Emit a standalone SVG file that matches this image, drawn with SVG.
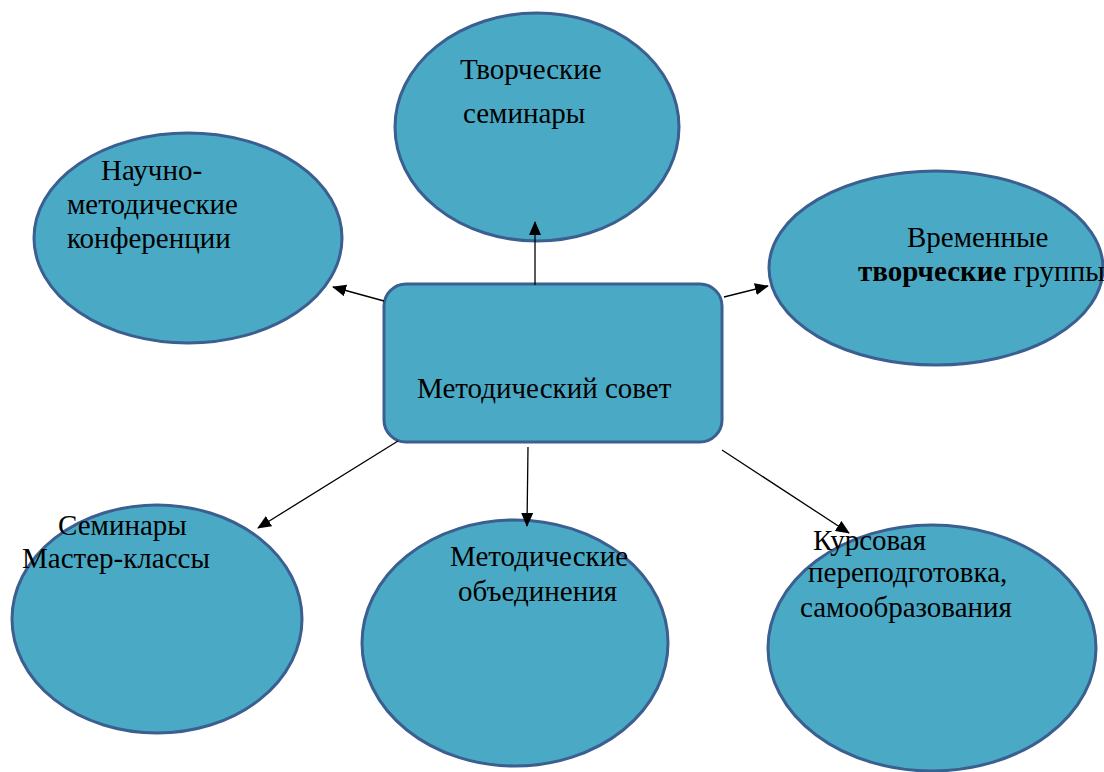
<svg xmlns="http://www.w3.org/2000/svg" width="1104" height="772" viewBox="0 0 1104 772">
<style>
.n{fill:#4aaac5;stroke:#3a5f90;stroke-width:3}
.t{font-family:"Liberation Serif","DejaVu Serif",serif;font-size:29px;fill:#000}
.c line{stroke:#000;stroke-width:1.3;marker-end:url(#ah)}
</style>
<defs>
<marker id="ah" markerWidth="14" markerHeight="12" refX="13" refY="6" orient="auto" markerUnits="userSpaceOnUse">
<path d="M0,0 L14,6 L0,12 Z" fill="#000"/>
</marker>
</defs>
<rect width="1104" height="772" fill="#fff"/>
<g id="n-tvorch-seminary"><ellipse class="n" cx="537" cy="127" rx="142" ry="114"/>
<text class="t" x="460" y="79">Творческие</text><text class="t" x="463" y="123">семинары</text></g>
<g id="n-nauchno"><ellipse class="n" cx="188" cy="238" rx="154" ry="105"/>
<text class="t" x="101" y="180">Научно-</text><text class="t" x="67" y="214">методические</text><text class="t" x="67" y="248">конференции</text></g>
<g id="n-vremennye"><ellipse class="n" cx="936" cy="268" rx="167" ry="97"/>
<text class="t" x="907" y="247">Временные</text><text class="t" x="858" y="281"><tspan font-weight="bold">творческие</tspan> группы</text></g>
<g id="n-sovet"><rect class="n" x="384" y="284" width="338" height="158" rx="22" ry="22"/>
<text class="t" x="417" y="398">Методический совет</text></g>
<g id="n-seminary"><ellipse class="n" cx="157" cy="619" rx="145" ry="114"/>
<text class="t" x="58" y="535">Семинары</text><text class="t" x="22" y="568">Мастер-классы</text></g>
<g id="n-mo"><ellipse class="n" cx="515" cy="643" rx="153" ry="123"/>
<text class="t" x="450" y="566">Методические</text><text class="t" x="458" y="601">объединения</text></g>
<g id="n-kursy"><ellipse class="n" cx="932" cy="648" rx="164" ry="123"/></g>
<g id="connectors" class="c">
<line x1="535" y1="285" x2="535" y2="222"/>
<line x1="384" y1="301" x2="333" y2="287"/>
<line x1="724" y1="297" x2="768" y2="286"/>
<line x1="398" y1="441" x2="258" y2="528"/>
<line x1="528" y1="447" x2="527" y2="526"/>
<line x1="722" y1="450" x2="849" y2="533"/>
</g>
<g id="n-kursy-text"><text class="t" x="813" y="550">Курсовая</text><text class="t" x="808" y="582">переподготовка,</text><text class="t" x="800" y="617">самообразования</text></g>
</svg>
